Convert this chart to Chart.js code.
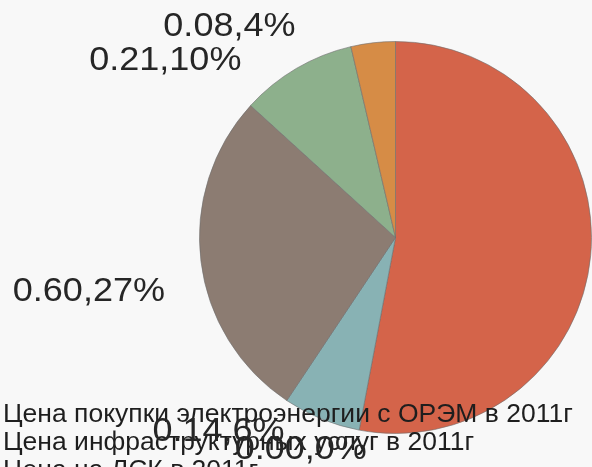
<!DOCTYPE html>
<html>
<head>
<meta charset="utf-8">
<script src="https://cdn.jsdelivr.net/npm/chart.js@4/dist/chart.umd.min.js"></script>
<style>
  html, body { margin: 0; padding: 0; background: #f8f8f8; }
  #wrap { width: 592px; height: 467px; position: relative; overflow: hidden; }
</style>
</head>
<body>
<div id="wrap"><canvas id="pie" width="592" height="467"></canvas></div>
<script>
// Price structure, 2011
const categories = [
  'Цена покупки электроэнергии с ОРЭМ в 2011г',
  'Цена инфраструктурных услуг в 2011г',
  'Цена на ЛСК в 2011г',
  'Цена услуг по передаче в 2011г',
  'Сбытовая надбавка в 2011г',
  'Прочие в 2011г'
];
const values = [1.16, 0.00, 0.14, 0.60, 0.21, 0.08];
const colors = ['#d4644a', '#e0a850', '#88b2b4', '#8c7c72', '#8db08c', '#d68c46'];

// label placement tweaks (px) on top of the slice's mid-angle anchor
const labelNudge = [[0, 0], [15, -10], [-22, -14], [3, 35], [-35, 35], [-73, 32]];
const textStretch = 1.06;

const total = values.reduce((a, b) => a + b, 0);
const labelText = values.map(v => v.toFixed(2) + ',' + Math.round(v / total * 100) + '%');

function stretchedText(ctx, text, x, y, align) {
  ctx.save();
  ctx.translate(x, y);
  ctx.scale(textStretch, 1);
  ctx.textAlign = align;
  ctx.fillText(text, 0, 0);
  ctx.restore();
}

const sliceLabels = {
  id: 'sliceLabels',
  afterDraw(chart) {
    const ctx = chart.ctx;
    const arcs = chart.getDatasetMeta(0).data;

    // category list in the lower left
    ctx.save();
    ctx.fillStyle = '#1e1e1e';
    ctx.font = '25px "Liberation Sans", Arial, sans-serif';
    ctx.textBaseline = 'alphabetic';
    categories.forEach((c, i) => stretchedText(ctx, c, 3, 422 + i * 28, 'left'));
    ctx.restore();

    // value,percent labels outside each slice
    ctx.save();
    ctx.fillStyle = '#262626';
    ctx.font = '34px "Liberation Sans", Arial, sans-serif';
    ctx.textBaseline = 'alphabetic';
    arcs.forEach((arc, i) => {
      const mid = (arc.startAngle + arc.endAngle) / 2;
      const r = arc.outerRadius * 1.2;
      const x = arc.x + Math.cos(mid) * r + labelNudge[i][0];
      const y = arc.y + Math.sin(mid) * r + labelNudge[i][1];
      const align = Math.cos(mid) >= 0 ? 'left' : 'right';
      stretchedText(ctx, labelText[i], x, y, align);
    });
    ctx.restore();
  }
};

new Chart(document.getElementById('pie'), {
  type: 'pie',
  data: {
    labels: categories,
    datasets: [{
      data: values,
      backgroundColor: colors,
      borderColor: 'rgba(110,110,110,0.6)',
      borderWidth: 1
    }]
  },
  options: {
    responsive: false,
    animation: false,
    layout: { padding: { left: 199, right: 0, top: 41, bottom: 33 } },
    plugins: {
      legend: { display: false },
      tooltip: { enabled: false }
    }
  },
  plugins: [sliceLabels]
});
</script>
</body>
</html>
